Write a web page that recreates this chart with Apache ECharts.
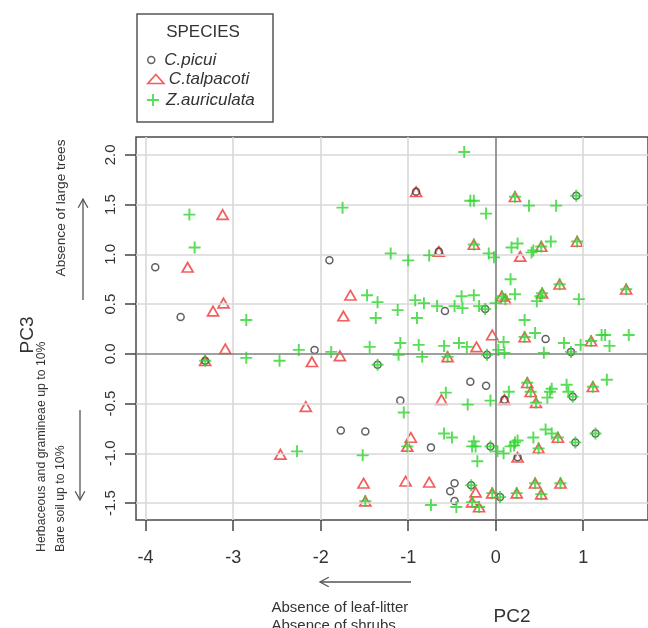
<!DOCTYPE html>
<html>
<head>
<meta charset="utf-8">
<script src="https://cdn.jsdelivr.net/npm/echarts@6/dist/echarts.min.js"></script>
<style>
html,body{margin:0;padding:0;background:#fff;}
#c{width:648px;height:628px;}
</style>
</head>
<body>
<div id="c"></div>
<script>
const xTicks = [-4, -3, -2, -1, 0, 1];
const yTicks = [-1.5, -1, -0.5, 0, 0.5, 1, 1.5, 2];
const speciesNames = ['C.picui', 'C.talpacoti', 'Z.auriculata'];

const picui = [
  [-3.89,0.87],[-3.60,0.37],[-1.90,0.94],[-3.32,-0.07],[-2.07,0.04],[-1.35,-0.11],
  [-1.77,-0.77],[-1.49,-0.78],[-0.91,1.63],[-0.65,1.03],[0.92,1.59],[-0.58,0.43],
  [-0.12,0.45],[0.57,0.15],[-0.10,-0.01],[0.86,0.02],[-0.29,-0.28],[-0.11,-0.32],
  [-1.09,-0.47],[0.88,-0.43],[-0.74,-0.94],[-0.06,-0.93],[0.91,-0.89],[1.14,-0.80],
  [-0.47,-1.30],[-0.52,-1.38],[-0.47,-1.48],[-0.28,-1.32],[0.05,-1.44],[0.10,-0.46],[0.25,-1.04]
];

const talpacoti = [
  [-3.12,1.40],[-3.52,0.87],[-1.66,0.59],[-1.74,0.38],[-3.11,0.51],[-3.23,0.43],
  [-3.09,0.05],[-3.32,-0.07],[-2.10,-0.08],[-1.78,-0.02],[-2.17,-0.53],[-2.46,-1.01],
  [-1.51,-1.30],[-1.49,-1.48],
  [-0.91,1.63],[0.22,1.58],[-0.65,1.03],[-0.25,1.10],[0.28,0.98],[0.52,1.08],[0.93,1.13],
  [0.07,0.58],[0.11,0.55],[0.53,0.61],[0.73,0.70],[1.49,0.65],
  [-0.04,0.19],[0.33,0.17],[1.09,0.13],[-0.55,-0.03],[-0.22,0.07],
  [-0.62,-0.46],[0.10,-0.46],[0.36,-0.29],[0.40,-0.38],[0.46,-0.49],[1.11,-0.33],
  [-0.97,-0.84],[-1.01,-0.93],[0.25,-1.04],[0.49,-0.95],[0.71,-0.84],
  [-1.03,-1.28],[-0.76,-1.29],[-0.23,-1.39],[-0.27,-1.49],[-0.19,-1.54],[-0.04,-1.40],
  [0.24,-1.40],[0.45,-1.30],[0.52,-1.41],[0.74,-1.30]
];

const auriculata = [
  [-3.50,1.40],[-3.44,1.07],[-1.75,1.47],[-1.20,1.01],[-1.47,0.59],[-1.35,0.52],[-1.37,0.36],
  [-2.85,0.34],[-3.32,-0.07],[-2.85,-0.04],[-2.47,-0.07],[-2.25,0.04],[-1.88,0.02],[-1.44,0.07],
  [-1.35,-0.11],[-2.27,-0.98],[-1.52,-1.02],[-1.49,-1.48],
  [-0.36,2.03],[-0.29,1.54],[-0.25,1.54],[-0.11,1.41],[0.22,1.58],[0.38,1.49],[0.69,1.49],[0.92,1.59],
  [-1.00,0.94],[-0.76,0.99],[-0.25,1.10],[-0.08,1.01],[-0.02,0.97],[0.18,1.07],[0.25,1.11],
  [0.41,1.02],[0.43,1.04],[0.52,1.08],[0.63,1.13],[0.93,1.13],
  [0.17,0.75],[0.22,0.60],[0.07,0.58],[0.11,0.55],[0.53,0.61],[0.73,0.70],[0.47,0.53],[0.51,0.58],
  [0.95,0.55],[1.49,0.65],
  [-1.12,0.44],[-0.92,0.54],[-0.82,0.51],[-0.90,0.36],[-0.67,0.48],[-0.47,0.48],[-0.39,0.58],
  [-0.38,0.46],[-0.25,0.59],[-0.19,0.48],[-0.12,0.45],[0.00,0.51],[0.33,0.34],
  [0.45,0.21],[0.33,0.17],[0.78,0.11],[0.97,0.09],[1.09,0.13],[1.21,0.19],[1.25,0.19],[1.30,0.08],[1.52,0.19],
  [-1.09,0.11],[-1.11,-0.01],[-0.88,0.09],[-0.84,-0.03],[-0.59,0.08],[-0.55,-0.03],[-0.42,0.11],
  [-0.33,0.07],[-0.10,-0.01],[0.03,0.04],[0.09,0.12],[0.10,0.01],[0.55,0.01],[0.86,0.02],
  [-1.05,-0.59],[-0.57,-0.39],[-0.32,-0.51],[-0.06,-0.47],[0.15,-0.38],[0.36,-0.29],[0.40,-0.38],
  [0.46,-0.49],[0.59,-0.44],[0.62,-0.38],[0.64,-0.35],[0.81,-0.31],[0.83,-0.38],[0.88,-0.43],
  [1.11,-0.33],[1.27,-0.26],
  [-1.01,-0.93],[-0.59,-0.80],[-0.50,-0.84],[-0.25,-0.88],[-0.23,-0.93],[-0.27,-0.93],[-0.06,-0.93],
  [-0.21,-1.08],[0.02,-0.98],[0.17,-0.93],[0.21,-0.92],[0.22,-0.89],[0.25,-0.87],[0.09,-1.00],
  [0.43,-0.84],[0.49,-0.95],[0.57,-0.76],[0.64,-0.80],[0.71,-0.84],[0.91,-0.89],[1.14,-0.80],
  [-0.74,-1.52],[-0.45,-1.54],[-0.28,-1.32],[-0.27,-1.49],[-0.19,-1.54],[-0.04,-1.40],[0.05,-1.44],
  [0.24,-1.40],[0.45,-1.30],[0.52,-1.41],[0.74,-1.30]
];

const FONT = "'Liberation Sans', Arial, Helvetica, sans-serif";
const TXT = '#333333';
const CIRCLE_C = '#3a3a3a';
const RED = '#f03535';
const GREEN = '#2fd52f';
const GRID_C = '#d9d9d9';
const ZERO_C = '#808080';
const PLUS = 'path://M4.2,0H5.8V4.2H10V5.8H5.8V10H4.2V5.8H0V4.2H4.2Z';

const X_MIN = -4.11, X_MAX = 1.74, Y_MIN = -1.67, Y_MAX = 2.18;
const gridLineData = xTicks.map(v => [{coord: [v, Y_MIN]}, {coord: [v, Y_MAX], lineStyle: {color: v === 0 ? ZERO_C : GRID_C, width: 1.6, type: 'solid'}}])
  .concat(yTicks.map(v => [{coord: [X_MIN, v]}, {coord: [X_MAX, v], lineStyle: {color: v === 0 ? ZERO_C : GRID_C, width: 1.6, type: 'solid'}}]))
  .sort((a, b) => (a[1].lineStyle.color === ZERO_C ? 1 : 0) - (b[1].lineStyle.color === ZERO_C ? 1 : 0));

function arrow(x1, y1, x2, y2) {
  const ang = Math.atan2(y2 - y1, x2 - x1);
  const L = 10, W = 0.5;
  const hx1 = x2 - L * Math.cos(ang - W), hy1 = y2 - L * Math.sin(ang - W);
  const hx2 = x2 - L * Math.cos(ang + W), hy2 = y2 - L * Math.sin(ang + W);
  return [
    {type: 'line', shape: {x1, y1, x2, y2}, style: {stroke: '#555', lineWidth: 1.3}},
    {type: 'polyline', shape: {points: [[hx1, hy1], [x2, y2], [hx2, hy2]]}, style: {stroke: '#555', lineWidth: 1.3, fill: null}}
  ];
}

function legendCfg(name, centerY, iw, ih, bw) {
  return {
    data: [name], left: 147, top: centerY - 8.5, padding: 0, orient: 'vertical',
    itemWidth: iw, itemHeight: ih, selectedMode: false,
    itemStyle: {borderWidth: bw},
    textStyle: {fontSize: 17, fontStyle: 'italic', color: TXT, fontFamily: FONT}
  };
}

const chart = echarts.init(document.getElementById('c'), null, {renderer: 'canvas'});
chart.setOption({
  animation: false,
  backgroundColor: '#ffffff',
  tooltip: {show: false},
  grid: {left: 136, top: 137, width: 513, height: 383, show: true, borderColor: '#4a4a4a', borderWidth: 1.5, backgroundColor: 'transparent'},
  legend: [
    legendCfg(speciesNames[0], 60, 16, 7, 1.5),
    legendCfg(speciesNames[1], 79, 16, 9, 1.7),
    legendCfg(speciesNames[2], 100, 16, 12, 0)
  ],
  xAxis: {
    type: 'value', min: X_MIN, max: X_MAX, position: 'bottom',
    axisLine: {show: false, onZero: false},
    splitLine: {show: false},
    axisPointer: {show: false},
    axisTick: {show: true, customValues: xTicks, length: 11, lineStyle: {color: '#444', width: 1.5}},
    axisLabel: {customValues: xTicks, margin: 29, fontSize: 18, color: TXT, fontFamily: FONT,
      formatter: v => String(Math.round(v))}
  },
  yAxis: {
    type: 'value', min: Y_MIN, max: Y_MAX, position: 'left',
    axisLine: {show: false, onZero: false},
    splitLine: {show: false},
    axisPointer: {show: false},
    axisTick: {show: true, customValues: yTicks, length: 11, lineStyle: {color: '#444', width: 1.5}},
    axisLabel: {customValues: yTicks, margin: 18, fontSize: 15, rotate: 90, color: TXT, fontFamily: FONT,
      formatter: v => Number(v).toFixed(1)}
  },
  series: [
    {
      type: 'scatter', name: 'gridlines', data: [], z: 1, silent: true,
      markLine: {silent: true, symbol: ['none', 'none'], animation: false,
        label: {show: false}, emphasis: {disabled: true}, data: gridLineData}
    },
    {
      type: 'scatter', name: speciesNames[1], data: talpacoti, z: 3, silent: true,
      symbol: 'triangle', symbolSize: [11, 9.5],
      itemStyle: {color: 'transparent', borderColor: RED, borderWidth: 1.7}
    },
    {
      type: 'scatter', name: speciesNames[0], data: picui, z: 4, silent: true,
      symbol: 'circle', symbolSize: 7,
      itemStyle: {color: 'transparent', borderColor: CIRCLE_C, borderWidth: 1.5}
    },
    {
      type: 'scatter', name: speciesNames[2], data: auriculata, z: 5, silent: true,
      symbol: PLUS, symbolSize: 12,
      itemStyle: {color: GREEN, borderWidth: 0}
    }
  ],
  graphic: [
    {type: 'rect', shape: {x: 137, y: 14, width: 136, height: 108}, style: {fill: null, stroke: '#555', lineWidth: 1.5}},
    {type: 'text', x: 203, y: 32, style: {text: 'SPECIES', font: '17px ' + FONT, fill: TXT, align: 'center', verticalAlign: 'middle'}},
    {type: 'text', x: 28, y: 335, rotation: Math.PI / 2, style: {text: 'PC3', font: '19px ' + FONT, fill: TXT, align: 'center', verticalAlign: 'middle'}},
    {type: 'text', x: 61, y: 208, rotation: Math.PI / 2, style: {text: 'Absence of large trees', font: '13.7px ' + FONT, fill: TXT, align: 'center', verticalAlign: 'middle'}},
    {type: 'text', x: 42, y: 552, rotation: Math.PI / 2, style: {text: 'Herbaceous and gramineae up to 10%', font: '12.3px ' + FONT, fill: TXT, align: 'left', verticalAlign: 'middle'}},
    {type: 'text', x: 61, y: 552, rotation: Math.PI / 2, style: {text: 'Bare soil up to 10%', font: '12.3px ' + FONT, fill: TXT, align: 'left', verticalAlign: 'middle'}},
    {type: 'text', x: 271.5, y: 608, style: {text: 'Absence of leaf-litter', font: '15px ' + FONT, fill: TXT, align: 'left', verticalAlign: 'middle'}},
    {type: 'text', x: 271.5, y: 626, style: {text: 'Absence of shrubs', font: '15px ' + FONT, fill: TXT, align: 'left', verticalAlign: 'middle'}},
    {type: 'text', x: 512, y: 617, style: {text: 'PC2', font: '19px ' + FONT, fill: TXT, align: 'center', verticalAlign: 'middle'}}
  ].concat(arrow(83, 300, 83, 199), arrow(80, 410, 80, 500), arrow(411, 582, 320, 582))
});
</script>
</body>
</html>
